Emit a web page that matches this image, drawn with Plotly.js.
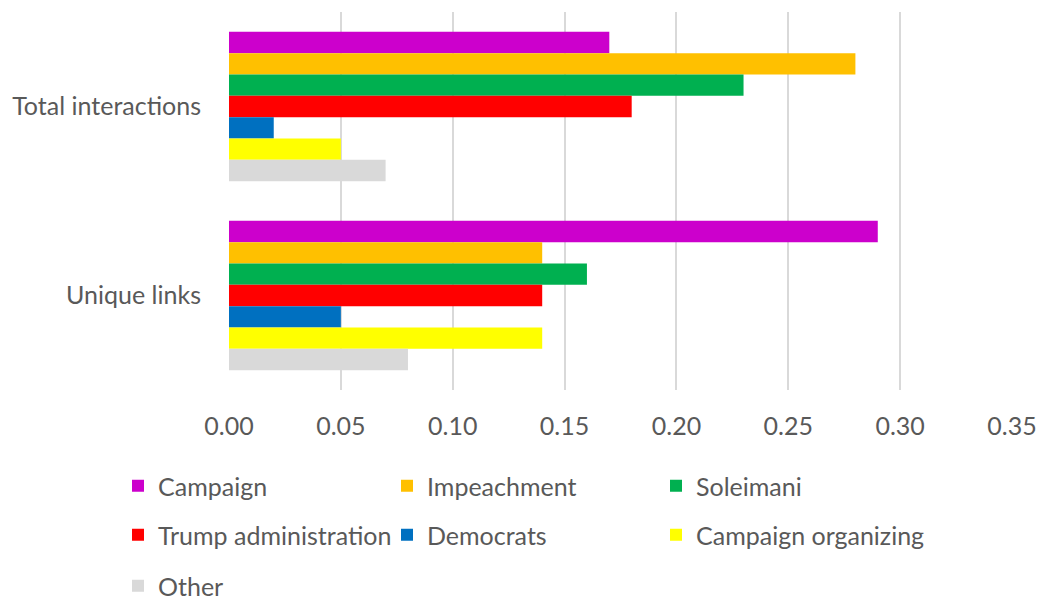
<!DOCTYPE html>
<html>
<head>
<meta charset="utf-8">
<script src="https://cdn.plot.ly/plotly-3.0.1.min.js"></script>
<style>html,body{margin:0;padding:0;background:#fff;}#chart{width:1040px;height:600px;}</style>
</head>
<body>
<div id="chart"></div>
<script>
const categories = ['Total interactions', 'Unique links'];
const seriesNames = ['Campaign', 'Impeachment', 'Soleimani', 'Trump administration', 'Democrats', 'Campaign organizing', 'Other'];
const campaign = [0.17, 0.29];
const impeachment = [0.28, 0.14];
const soleimani = [0.23, 0.16];
const trumpAdministration = [0.18, 0.14];
const democrats = [0.02, 0.05];
const campaignOrganizing = [0.05, 0.14];
const other = [0.07, 0.08];
const tickValues = [0, 0.05, 0.10, 0.15, 0.20, 0.25, 0.30, 0.35];

const seriesValues = [campaign, impeachment, soleimani, trumpAdministration, democrats, campaignOrganizing, other];
const colors = ['#CC00CC', '#FFC000', '#00B050', '#FF0000', '#0070C0', '#FFFF00', '#D9D9D9'];

const FONT = 'Lato, "Open Sans", sans-serif';
const GRAY = '#595959';
const FS = 25;

// legend grid: 3 columns, rows as in the reference
const colX = [118, 387, 656];
const rowY = [486, 535, 586];

const traces = seriesNames.map((name, i) => ({
  type: 'bar',
  orientation: 'h',
  name: name,
  y: categories,
  x: seriesValues[i],
  marker: {color: colors[i], line: {width: 0}},
  legend: i === 0 ? 'legend' : 'legend' + (i + 1),
  hoverinfo: 'x+name'
}));

const layout = {
  width: 1040, height: 600,
  margin: {l: 228.5, r: 28.3, t: 12, b: 210},
  paper_bgcolor: '#ffffff', plot_bgcolor: '#ffffff',
  font: {family: FONT, size: FS, color: GRAY},
  barmode: 'group',
  bargap: 0.21,
  bargroupgap: 0,
  xaxis: {
    range: [0, 0.35],
    tickvals: tickValues,
    tickformat: '.2f',
    showgrid: true, gridcolor: '#D9D9D9', gridwidth: 1.5,
    zeroline: false, showline: false,
    ticks: 'outside', ticklen: 14, tickcolor: 'rgba(0,0,0,0)',
    tickfont: {family: FONT, size: FS, color: GRAY},
    fixedrange: true
  },
  yaxis: {
    type: 'category',
    categoryorder: 'array', categoryarray: categories,
    autorange: 'reversed',
    showgrid: false, zeroline: false, showline: false,
    ticks: 'outside', ticklen: 22, tickcolor: 'rgba(0,0,0,0)',
    tickfont: {family: FONT, size: FS, color: GRAY},
    fixedrange: true
  },
  showlegend: true
};

seriesNames.forEach((name, i) => {
  const key = i === 0 ? 'legend' : 'legend' + (i + 1);
  layout[key] = {
    orientation: 'h',
    xref: 'container', yref: 'container',
    x: colX[i % 3] / 1040, xanchor: 'left',
    y: 1 - rowY[Math.floor(i / 3)] / 600, yanchor: 'middle',
    font: {family: FONT, size: FS, color: GRAY},
    itemclick: false, itemdoubleclick: false,
    bgcolor: 'rgba(0,0,0,0)', borderwidth: 0
  };
});

Plotly.newPlot('chart', traces, layout, {displayModeBar: false, responsive: false});
</script>
</body>
</html>
